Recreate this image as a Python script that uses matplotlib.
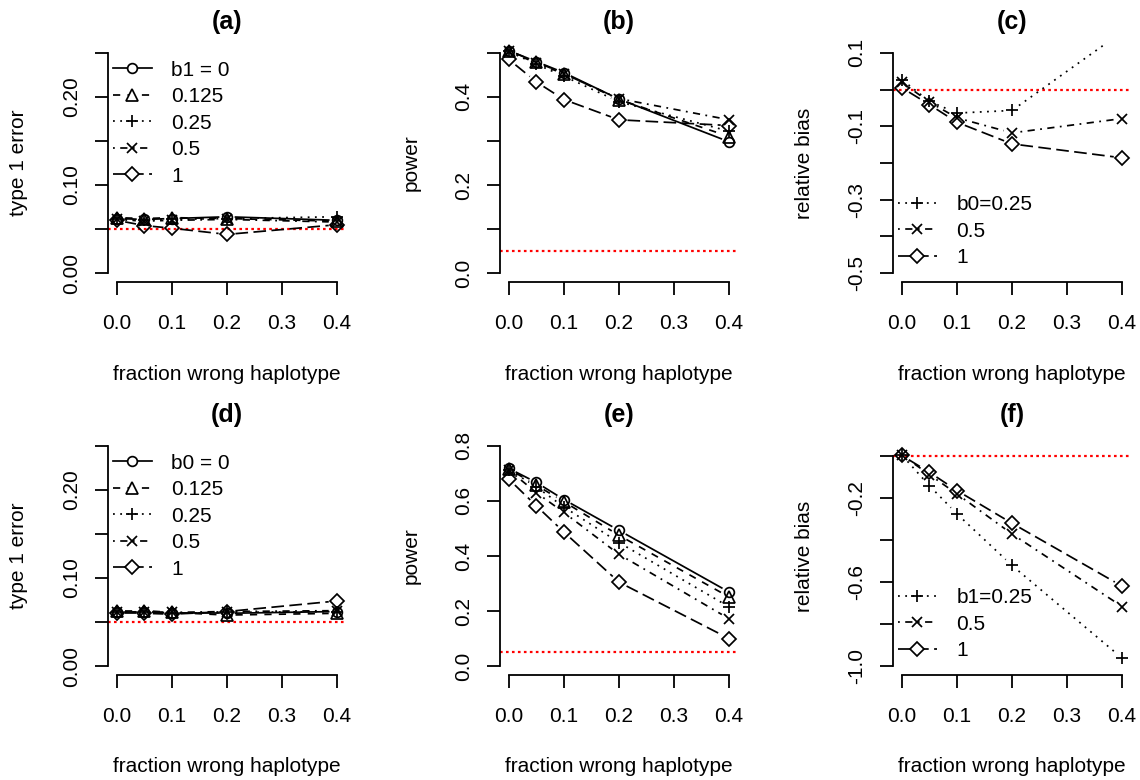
import matplotlib
matplotlib.use("Agg")
import matplotlib.pyplot as plt
from matplotlib.lines import Line2D
import numpy as np

plt.rcParams['font.family'] = ['Liberation Sans', 'DejaVu Sans']
plt.rcParams['axes.unicode_minus'] = False
plt.rcParams['lines.scale_dashes'] = False

# ---------------- data ----------------
frac = [0.0, 0.05, 0.1, 0.2, 0.4]
xticks = [0.0, 0.1, 0.2, 0.3, 0.4]
xticklabels = ["0.0", "0.1", "0.2", "0.3", "0.4"]

# (a) type 1 error, varying b1
a_labels = ["b1 = 0", "0.125", "0.25", "0.5", "1"]
a_b1_0 = [0.062, 0.061, 0.062, 0.064, 0.060]
a_b1_0125 = [0.063, 0.062, 0.063, 0.062, 0.059]
a_b1_025 = [0.062, 0.060, 0.061, 0.062, 0.064]
a_b1_05 = [0.061, 0.059, 0.060, 0.061, 0.058]
a_b1_1 = [0.060, 0.054, 0.051, 0.044, 0.055]

# (b) power, varying b1
b_b1_0 = [0.505, 0.480, 0.455, 0.395, 0.298]
b_b1_0125 = [0.505, 0.479, 0.453, 0.394, 0.310]
b_b1_025 = [0.503, 0.474, 0.447, 0.389, 0.322]
b_b1_05 = [0.503, 0.477, 0.452, 0.396, 0.348]
b_b1_1 = [0.485, 0.434, 0.394, 0.348, 0.335]

# (c) relative bias, varying b0
c_labels = ["b0=0.25", "0.5", "1"]
c_b0_025 = [0.027, -0.032, -0.064, -0.057, 0.157]
c_b0_05 = [0.020, -0.034, -0.077, -0.118, -0.079]
c_b0_1 = [0.005, -0.041, -0.089, -0.148, -0.186]

# (d) type 1 error, varying b0
d_labels = ["b0 = 0", "0.125", "0.25", "0.5", "1"]
d_b0_0 = [0.062, 0.062, 0.060, 0.060, 0.062]
d_b0_0125 = [0.063, 0.063, 0.061, 0.058, 0.060]
d_b0_025 = [0.062, 0.061, 0.060, 0.061, 0.062]
d_b0_05 = [0.061, 0.062, 0.061, 0.062, 0.063]
d_b0_1 = [0.060, 0.060, 0.059, 0.062, 0.074]

# (e) power, varying b0
e_b0_0 = [0.718, 0.667, 0.605, 0.493, 0.269]
e_b0_0125 = [0.716, 0.657, 0.597, 0.475, 0.251]
e_b0_025 = [0.714, 0.651, 0.578, 0.449, 0.215]
e_b0_05 = [0.712, 0.630, 0.558, 0.406, 0.172]
e_b0_1 = [0.679, 0.582, 0.487, 0.305, 0.100]

# (f) relative bias, varying b1
f_labels = ["b1=0.25", "0.5", "1"]
f_b1_025 = [0.006, -0.140, -0.274, -0.520, -0.962]
f_b1_05 = [0.006, -0.087, -0.179, -0.370, -0.716]
f_b1_1 = [0.004, -0.076, -0.163, -0.319, -0.619]

# y axis ticks / labels
yt_type1 = [0.00, 0.05, 0.10, 0.15, 0.20, 0.25]
yl_type1 = ["0.00", "", "0.10", "", "0.20", ""]
yt_powb = [0.0, 0.1, 0.2, 0.3, 0.4, 0.5]
yl_powb = ["0.0", "", "0.2", "", "0.4", ""]
yt_biasc = [-0.5, -0.4, -0.3, -0.2, -0.1, 0.0, 0.1]
yl_biasc = ["-0.5", "", "-0.3", "", "-0.1", "", "0.1"]
yt_powe = [0.0, 0.2, 0.4, 0.6, 0.8]
yl_powe = ["0.0", "0.2", "0.4", "0.6", "0.8"]
yt_biasf = [-1.0, -0.8, -0.6, -0.4, -0.2, 0.0]
yl_biasf = ["-1.0", "", "-0.6", "", "-0.2", ""]

# ---------------- styles ----------------
LTY = {
    "solid": "-",
    "dashed": (0, (5.2, 5.2)),
    "dotted": (0, (1.3, 3.9)),
    "dotdash": (0, (1.3, 3.9, 5.2, 3.9)),
    "longdash": (0, (9.1, 3.9)),
}
PCH = {  # marker, size
    "circle": ("o", 7.0),
    "triangle": ("^", 8.0),
    "plus": ("+", 9.0),
    "cross": ("x", 7.6),
    "diamond": ("D", 6.9),
}
five = [("solid", "circle"), ("dashed", "triangle"), ("dotted", "plus"),
        ("dotdash", "cross"), ("longdash", "diamond")]
three = five[2:]

LW = 1.25
MEW = 1.25
FS = 15
W, H = 1140, 780

fig = plt.figure(figsize=(W / 100, H / 100), dpi=100)

lefts = [108, 500, 893]
tops = [44, 437]
pw, ph = 238, 238


def make_ax(col, row):
    l = lefts[col] / W
    b = 1 - (tops[row] + ph) / H
    return fig.add_axes([l, b, pw / W, ph / H])


def pad_lim(lo, hi):
    d = (hi - lo) * 0.04
    return lo - d, hi + d


def setup(ax, ylim, yt, yl, ylabel, title):
    ax.set_xlim(*pad_lim(0, 0.4))
    ax.set_ylim(*pad_lim(*ylim))
    for s in ["top", "right"]:
        ax.spines[s].set_visible(False)
    ax.spines["left"].set_bounds(yt[0], yt[-1])
    ax.spines["bottom"].set_bounds(xticks[0], xticks[-1])
    for s in ["left", "bottom"]:
        ax.spines[s].set_linewidth(1.3)
    ax.set_xticks(xticks)
    ax.set_xticklabels(xticklabels, fontsize=FS)
    ax.set_yticks(yt)
    ax.set_yticklabels(yl, fontsize=FS, rotation=90, va="center")
    ax.tick_params(axis="both", direction="out", length=9.4, width=1.3)
    ax.tick_params(axis="x", pad=13.3)
    ax.tick_params(axis="y", pad=10.0)
    ax.set_xlabel("fraction wrong haplotype", fontsize=FS, va="center")
    ax.xaxis.set_label_coords(0.5, -92 / ph)
    ax.set_ylabel(ylabel, fontsize=FS, va="center")
    ax.yaxis.set_label_coords(-89 / pw, 0.5)
    ax.set_title(title, fontsize=18, fontweight="bold", pad=11)


def plot_b(ax, x, y, lty, pch, gap_px=8.5):
    ls = LTY[lty]
    m, ms = PCH[pch]
    pts = ax.transData.transform(np.column_stack([x, y]))
    inv = ax.transData.inverted()
    for i in range(len(x) - 1):
        p0, p1 = pts[i], pts[i + 1]
        d = p1 - p0
        L = np.hypot(d[0], d[1])
        if L > 2 * gap_px:
            u = d / L
            seg = inv.transform(np.array([p0 + u * gap_px, p1 - u * gap_px]))
            ax.plot(seg[:, 0], seg[:, 1], color="black", lw=LW, linestyle=ls)
    ax.plot(x, y, linestyle="none", marker=m, ms=ms, mfc="none",
            mec="black", mew=MEW)


def add_legend(ax, labels, styles, loc, anchor):
    handles = []
    for lty, pch in styles:
        m, ms = PCH[pch]
        handles.append(Line2D([], [], color="black", lw=LW, linestyle=LTY[lty],
                              marker=m, ms=ms, mfc="white", mec="black", mew=MEW))
    ax.legend(handles, labels, loc=loc, bbox_to_anchor=anchor,
              bbox_transform=ax.transAxes, frameon=False, borderpad=0,
              borderaxespad=0, handlelength=1.86, handletextpad=0.94,
              labelspacing=0.36, fontsize=FS, numpoints=1)


def redline(ax, y):
    ax.axhline(y, color="red", lw=1.6, linestyle=(0, (1.9, 2.4)))


# (a)
ax = make_ax(0, 0)
setup(ax, (0, 0.25), yt_type1, yl_type1, "type 1 error", "(a)")
redline(ax, 0.05)
for ser, st in zip([a_b1_0, a_b1_0125, a_b1_025, a_b1_05, a_b1_1], five):
    plot_b(ax, frac, ser, *st)
add_legend(ax, a_labels, five, "upper left", (0.021, 0.93))

# (b)
ax = make_ax(1, 0)
setup(ax, (0, 0.5), yt_powb, yl_powb, "power", "(b)")
redline(ax, 0.05)
for ser, st in zip([b_b1_0, b_b1_0125, b_b1_025, b_b1_05, b_b1_1], five):
    plot_b(ax, frac, ser, *st)

# (c)
ax = make_ax(2, 0)
setup(ax, (-0.5, 0.1), yt_biasc, yl_biasc, "relative bias", "(c)")
redline(ax, 0.0)
for ser, st in zip([c_b0_025, c_b0_05, c_b0_1], three):
    plot_b(ax, frac, ser, *st)
add_legend(ax, c_labels, three, "lower left", (0.021, 0.062))

# (d)
ax = make_ax(0, 1)
setup(ax, (0, 0.25), yt_type1, yl_type1, "type 1 error", "(d)")
redline(ax, 0.05)
for ser, st in zip([d_b0_0, d_b0_0125, d_b0_025, d_b0_05, d_b0_1], five):
    plot_b(ax, frac, ser, *st)
add_legend(ax, d_labels, five, "upper left", (0.021, 0.93))

# (e)
ax = make_ax(1, 1)
setup(ax, (0, 0.8), yt_powe, yl_powe, "power", "(e)")
redline(ax, 0.05)
for ser, st in zip([e_b0_0, e_b0_0125, e_b0_025, e_b0_05, e_b0_1], five):
    plot_b(ax, frac, ser, *st)

# (f)
ax = make_ax(2, 1)
setup(ax, (-1.0, 0.05), yt_biasf, yl_biasf, "relative bias", "(f)")
redline(ax, 0.0)
for ser, st in zip([f_b1_025, f_b1_05, f_b1_1], three):
    plot_b(ax, frac, ser, *st)
add_legend(ax, f_labels, three, "lower left", (0.021, 0.062))

fig.savefig("out.png", dpi=100)
